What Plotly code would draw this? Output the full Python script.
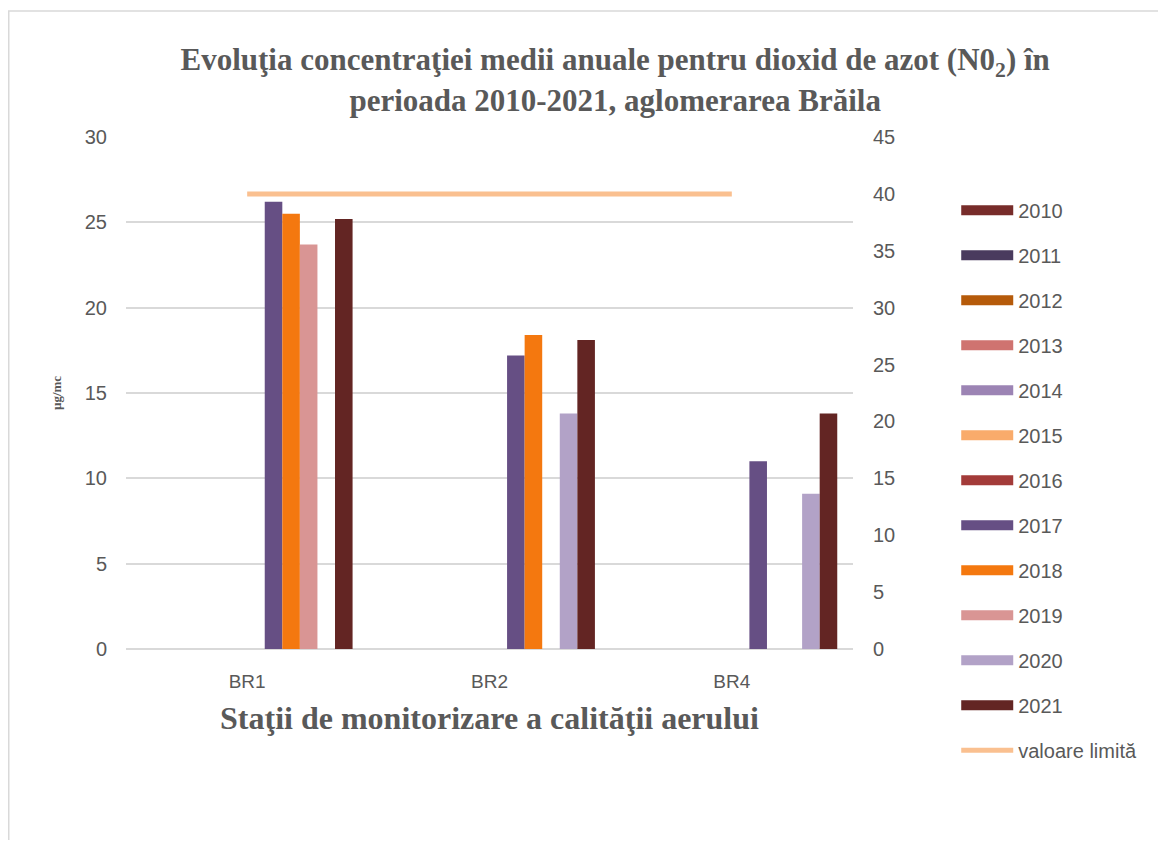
import plotly.graph_objects as go

stations = ["BR1", "BR2", "BR4"]
years = ["2010", "2011", "2012", "2013", "2014", "2015", "2016", "2017", "2018", "2019", "2020", "2021"]
values = {
    "2010": [None, None, None],
    "2011": [None, None, None],
    "2012": [None, None, None],
    "2013": [None, None, None],
    "2014": [None, None, None],
    "2015": [None, None, None],
    "2016": [None, None, None],
    "2017": [26.2, 17.2, 11.0],
    "2018": [25.5, 18.4, None],
    "2019": [23.7, None, None],
    "2020": [None, 13.8, 9.1],
    "2021": [25.2, 18.1, 13.8],
}
limit_values = [40, 40, 40]
limit_name = "valoare limită"
colors = ["#772C2A", "#4A3B5E", "#B55A0A", "#CF7370", "#9C84B4", "#F9AB6B",
          "#A33B39", "#664F84", "#F4780F", "#D99594", "#B2A2C7", "#632523"]
limit_color = "#FAC090"

fig = go.Figure()
for i, y in enumerate(years):
    fig.add_trace(go.Bar(x=stations, y=values[y], name=y, marker_color=colors[i],
                         marker_line_width=0, showlegend=False, yaxis="y"))
fig.add_trace(go.Scatter(x=stations, y=limit_values, name=limit_name, mode="lines",
                         line=dict(color=limit_color, width=5), yaxis="y2",
                         showlegend=False))
# legend entries (wide swatches like the original)
for i, y in enumerate(years):
    fig.add_trace(go.Scatter(x=[None], y=[None], name=y, mode="lines",
                             line=dict(color=colors[i], width=12), legendgroup=y))
fig.add_trace(go.Scatter(x=[None], y=[None], name=limit_name, mode="lines",
                         line=dict(color=limit_color, width=5), legendgroup="lim"))

grey = "#595959"
serif = "Liberation Serif, Times New Roman, serif"
fig.update_layout(
    width=1150, height=832,
    paper_bgcolor="white", plot_bgcolor="white",
    margin=dict(l=118, r=305, t=129, b=191),
    barmode="group", bargap=0.13, bargroupgap=0,
    font=dict(family="Liberation Sans, Arial", color=grey),
    title=dict(text="<b>Evoluţia concentraţiei medii anuale pentru dioxid de azot (N0<sub>2</sub>) în<br>perioada 2010-2021, aglomerarea Brăila</b>",
               x=0.528, xanchor="center", xref="container", y=0.925, yanchor="top",
               font=dict(family=serif, size=31, color=grey)),
    xaxis=dict(showline=False, ticks="", tickfont=dict(size=19, color=grey),
               ticklabelstandoff=19,
               title=dict(text="<b>Staţii de monitorizare a calităţii aerului</b>",
                          font=dict(family=serif, size=32, color=grey),
                          standoff=15)),
    yaxis=dict(range=[0, 30], dtick=5, showgrid=True, gridcolor="#D9D9D9", gridwidth=1.5,
               zeroline=True, zerolinecolor="#D9D9D9", zerolinewidth=1.5,
               tickfont=dict(size=20, color=grey), ticks="", ticklabelstandoff=18,
               title=dict(text="<b>µg/mc</b>", font=dict(family=serif, size=13, color=grey),
                          standoff=20)),
    yaxis2=dict(range=[0, 45], dtick=5, overlaying="y", side="right", showgrid=False,
                zeroline=False, tickfont=dict(size=20, color=grey), ticks="",
                ticklabelstandoff=19),
    legend=dict(x=1.142, xanchor="left", y=0.895, yanchor="top",
                font=dict(size=20, color=grey), traceorder="grouped", tracegroupgap=16,
                itemwidth=52, maxheight=800),
    showlegend=True,
)
fig.add_shape(type="rect", xref="paper", yref="paper",
              x0=(0.75 - 118) / 727, x1=(1250 - 118) / 727, y0=-(900 - 641) / 512, y1=1 + (129 - 3) / 512,
              line=dict(color="#D9D9D9", width=1.5), layer="below")

fig.write_html("out.html")
